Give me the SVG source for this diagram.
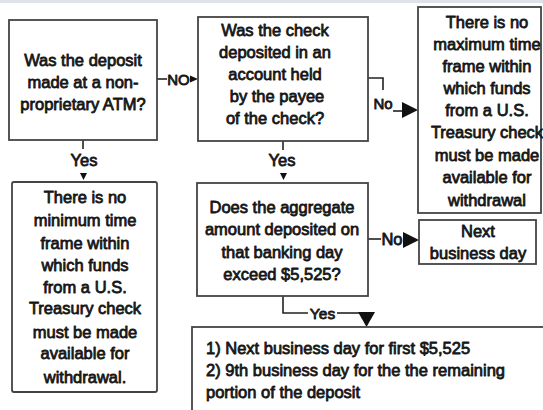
<svg xmlns="http://www.w3.org/2000/svg" width="543" height="410" viewBox="0 0 543 410">
<defs>
<style>
.box{fill:#ffffff;stroke:#444444;stroke-width:1.8}
.t{font-family:"Liberation Sans",Arial,sans-serif;font-size:16.5px;fill:#161616;stroke:#161616;stroke-width:0.8;stroke-linejoin:round;text-anchor:middle}
.tl{text-anchor:start}
.c{fill:none;stroke:#222222;stroke-width:1.6}
.ah{fill:#111111}
</style>
</defs>
<rect x="0" y="0" width="543" height="410" fill="#ffffff"/>
<rect x="0" y="0" width="543" height="3" fill="#dfe3e8"/>

<g id="connectors">
  <line class="c" x1="157" y1="79" x2="167" y2="79"/>
  <text class="t" x="178.5" y="85" style="font-size:15px">NO</text>
  <polygon class="ah" points="190,75.5 198,79 190,82.5"/>
  <polyline class="c" points="368,78 383,78 383,90"/>
  <text class="t" x="383" y="109" style="font-size:15px">No</text>
  <line class="c" x1="393" y1="111" x2="403" y2="111"/>
  <polygon class="ah" points="402,102 418,110 402,118"/>
  <line class="c" x1="83" y1="140" x2="83" y2="149"/>
  <text class="t" x="84" y="166">Yes</text>
  <polygon class="ah" points="80,173 87,173 83.5,180"/>
  <line class="c" x1="283" y1="141" x2="283" y2="150"/>
  <text class="t" x="282" y="166">Yes</text>
  <polygon class="ah" points="280,173 287,173 283.5,180"/>
  <line class="c" x1="368" y1="239" x2="381" y2="239"/>
  <text class="t" x="392" y="245">No</text>
  <polygon class="ah" points="403,232 419,240 403,248"/>
  <polyline class="c" points="283,296 283,313 308,313"/>
  <text class="t" x="322.5" y="318.5" style="font-size:15.5px">Yes</text>
  <line class="c" x1="337" y1="313" x2="360" y2="313"/>
  <polygon class="ah" points="358,312 375,312 366.5,327"/>
</g>

<g id="n1">
  <rect class="box" x="9" y="20" width="148" height="120"/>
  <text class="t" x="83" y="66">Was the deposit</text>
  <text class="t" x="83" y="88">made at a non-</text>
  <text class="t" x="83" y="110">proprietary ATM?</text>
</g>

<g id="n2">
  <rect class="box" x="198" y="17" width="170" height="124"/>
  <text class="t" x="275" y="36">Was the check</text>
  <text class="t" x="275" y="58">deposited in an</text>
  <text class="t" x="275" y="80">account held</text>
  <text class="t" x="277" y="102">by the payee</text>
  <text class="t" x="275" y="124">of the check?</text>
</g>

<g id="n3">
  <rect class="box" x="418" y="7" width="123" height="206"/>
  <text class="t" x="487" y="28">There is no</text>
  <text class="t" x="487" y="50">maximum time</text>
  <text class="t" x="487" y="72">frame within</text>
  <text class="t" x="487" y="94">which funds</text>
  <text class="t" x="487" y="116">from a U.S.</text>
  <text class="t" x="487" y="138">Treasury check</text>
  <text class="t" x="487" y="161">must be made</text>
  <text class="t" x="487" y="183">available for</text>
  <text class="t" x="487" y="206">withdrawal</text>
</g>

<g id="n4">
  <rect class="box" x="12" y="182" width="145" height="210" rx="2"/>
  <text class="t" x="85" y="203">There is no</text>
  <text class="t" x="85" y="226">minimum time</text>
  <text class="t" x="85" y="249">frame within</text>
  <text class="t" x="85" y="271">which funds</text>
  <text class="t" x="85" y="293">from a U.S.</text>
  <text class="t" x="85" y="314">Treasury check</text>
  <text class="t" x="85" y="338">must be made</text>
  <text class="t" x="85" y="359">available for</text>
  <text class="t" x="85" y="383">withdrawal.</text>
</g>

<g id="n5">
  <rect class="box" x="197" y="183" width="171" height="113"/>
  <text class="t" x="282" y="213">Does the aggregate</text>
  <text class="t" x="282" y="235">amount deposited on</text>
  <text class="t" x="282" y="258">that banking day</text>
  <text class="t" x="282" y="280">exceed $5,525?</text>
</g>

<g id="n6">
  <rect class="box" x="419" y="220" width="117" height="44"/>
  <text class="t" x="478" y="237">Next</text>
  <text class="t" x="478" y="259">business day</text>
</g>

<g id="n7">
  <rect class="box" x="192" y="327" width="360" height="100"/>
  <text class="t tl" x="206" y="354">1) Next business day for first $5,525</text>
  <text class="t tl" x="206" y="376">2) 9th business day for the the remaining</text>
  <text class="t tl" x="206" y="398">portion of the deposit</text>
</g>
</svg>
